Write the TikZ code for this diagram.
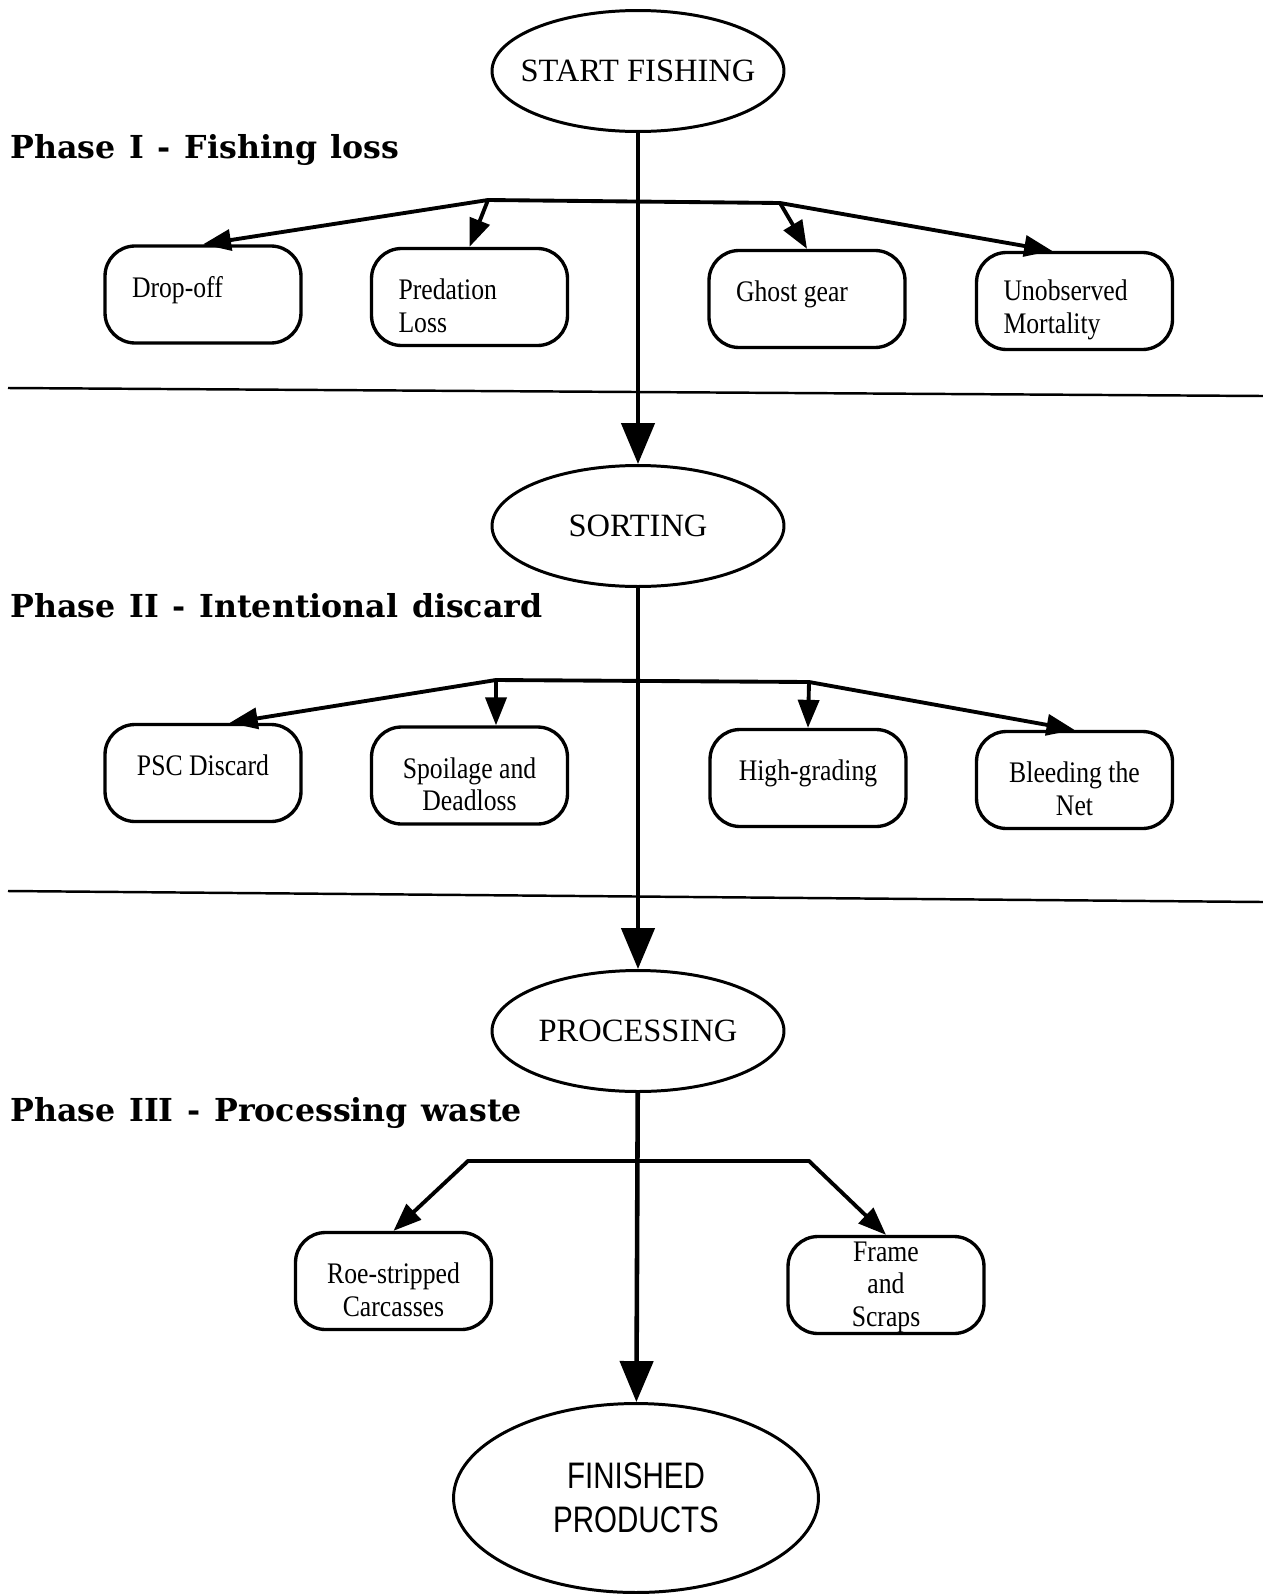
\documentclass[tikz,border=0pt]{standalone}
\usepackage{fontspec}
\setmainfont{Liberation Serif}
\newfontfamily\boxfont[FakeStretch=0.86]{Liberation Serif}
\newfontfamily\phasefont[WordSpace=1.25]{DejaVu Serif}
\newfontfamily\endfont[FakeStretch=0.8]{Liberation Sans}
\usetikzlibrary{arrows.meta,shapes.geometric}

% struts to sit box texts like the original
\newcommand{\topgap}[1][22pt]{\rule{0pt}{#1}}
\newcommand{\lowgap}{\rule[-8.5pt]{0pt}{8.5pt}}

\tikzset{
  stage/.style={draw, ellipse, line width=1.7pt, inner sep=0pt,
    minimum width=5.84cm, minimum height=2.42cm,
    font=\fontsize{18.5}{22}\selectfont},
  lossbox/.style={draw, rounded corners=0.6cm, line width=1.9pt,
    minimum width=3.92cm, minimum height=1.94cm, align=center,
    font=\boxfont\fontsize{17}{18.5}\selectfont},
  phase/.style={anchor=base west, inner sep=0pt,
    font=\phasefont\bfseries\fontsize{18}{22}\selectfont},
  mainflow/.style={line width=2.6pt, -{Triangle[length=0.82cm,width=0.66cm]}},
  branch/.style={line width=2.2pt, line cap=round},
  loss/.style={branch, -{Triangle[length=0.56cm,width=0.42cm]}},
  divider/.style={line width=1.4pt}
}

\begin{document}
\begin{tikzpicture}[x=0.02cm, y=-0.02cm]
    \useasboundingbox (0,0) rectangle (1263,1596);

    % stages
    \node[stage] (start) at (638,71) {\makebox[0pt]{START FISHING}};
    \node[stage] (sort) at (638,526) {\makebox[0pt]{SORTING}};
    \node[stage] (proc) at (638,1031) {\makebox[0pt]{PROCESSING}};
    \node[stage, minimum width=7.3cm, minimum height=3.78cm,
      font=\endfont\fontsize{21}{25}\selectfont, align=center] (fin) at (636,1498) {FINISHED\\PRODUCTS};

    % phase titles
    \node[phase] (ph1) at (10,158) {Phase I - Fishing loss};
    \node[phase] (ph2) at (10,617) {Phase II - Intentional discard};
    \node[phase] (ph3) at (10,1121) {Phase III - Processing waste};

    % dividing lines
    \draw[divider] (8,388) -- (1263,396);
    \draw[divider] (8,891) -- (1263,902);

    % phase I boxes
    \node[lossbox, align=flush left, text width=2.84cm] (drop) at (203,294.5) {Drop-off\lowgap};
    \node[lossbox, align=flush left, text width=2.84cm] (pred) at (469.5,297) {\topgap Predation\\Loss};
    \node[lossbox, align=flush left, text width=2.84cm] (ghost) at (807,299) {Ghost gear\lowgap};
    \node[lossbox, align=flush left, text width=2.84cm] (unobs) at (1074.5,301) {\topgap Unobserved\\Mortality};

    % phase II boxes
    \node[lossbox] (psc) at (203,773) {PSC Discard\lowgap};
    \node[lossbox] (spoil) at (469.5,775.5) {\topgap Spoilage and\\Deadloss};
    \node[lossbox] (high) at (808,778) {High-grading\lowgap};
    \node[lossbox] (bleed) at (1074.5,780) {\topgap Bleeding the\\Net};

    % phase III boxes
    \node[lossbox] (roe) at (393.5,1281) {\topgap Roe-stripped\\Carcasses};
    \node[lossbox, inner ysep=0pt] (frame) at (886,1285) {\topgap[13.5pt]Frame\\and\\Scraps};

    % main flow
    \draw[mainflow] (start) -- (sort);
    \draw[mainflow] (sort) -- (proc);
    \draw[mainflow] (proc) -- (fin);

    % branch bars
    \coordinate (b1w) at (488,200);
    \coordinate (b1e) at (780,203);
    \coordinate (b2w) at (496,680);
    \coordinate (b2e) at (809,682);
    \coordinate (b3w) at (468,1161);
    \coordinate (b3e) at (809,1161);
    \draw[branch] (b1w) -- (b1e);
    \draw[branch] (b2w) -- (b2e);
    \draw[branch] (b3w) -- (b3e);

    % loss arrows
    \foreach \from/\to in {b1w/drop.north, b1w/pred.north, b1e/ghost.north, b1e/unobs.114,
      b2w/psc.62, b2e/high.north, b2e/bleed.north, b3w/roe.north, b3e/frame.north}
    \draw[loss] (\from) -- (\to);
    \draw[loss] (b2w) -- (b2w |- spoil.north);
\end{tikzpicture}
\end{document}
